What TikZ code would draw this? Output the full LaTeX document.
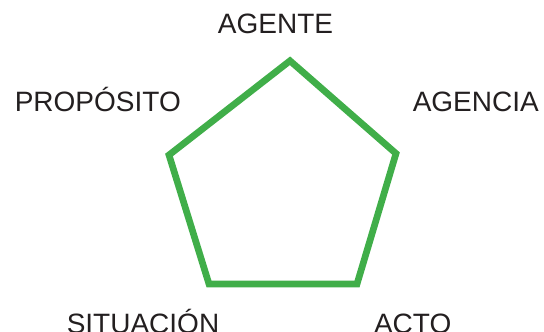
\documentclass[tikz,border=0pt]{standalone}
\usepackage{fontspec}
\setmainfont{Liberation Sans}
\definecolor{pgreen}{RGB}{64,174,73}
\definecolor{ptext}{RGB}{35,31,32}
\begin{document}
\begin{tikzpicture}[x=1pt,y=-1pt,
  lbl/.style={anchor=base,inner sep=0pt,text=ptext,font=\fontsize{28}{34}\selectfont},
  pent/.style={draw=pgreen,line width=6.7pt,line join=miter}]
\useasboundingbox (0,0) rectangle (544,332);
\coordinate (top) at (290,60.8);
\coordinate (rt) at (396,153.5);
\coordinate (br) at (357,284);
\coordinate (bl) at (209,284);
\coordinate (lf) at (169,155);
\draw[pent] (top) -- (rt) -- (br) -- (bl) -- (lf) -- cycle;
\node[lbl] (agente) at (275.5,34) {AGENTE};
\node[lbl] (proposito) at (97.8,111) {PROPÓSITO};
\node[lbl] (agencia) at (475.8,111) {AGENCIA};
\node[lbl] (situacion) at (143,333) {SITUACIÓN};
\node[lbl] (acto) at (412.7,333) {ACTO};
\end{tikzpicture}
\end{document}
